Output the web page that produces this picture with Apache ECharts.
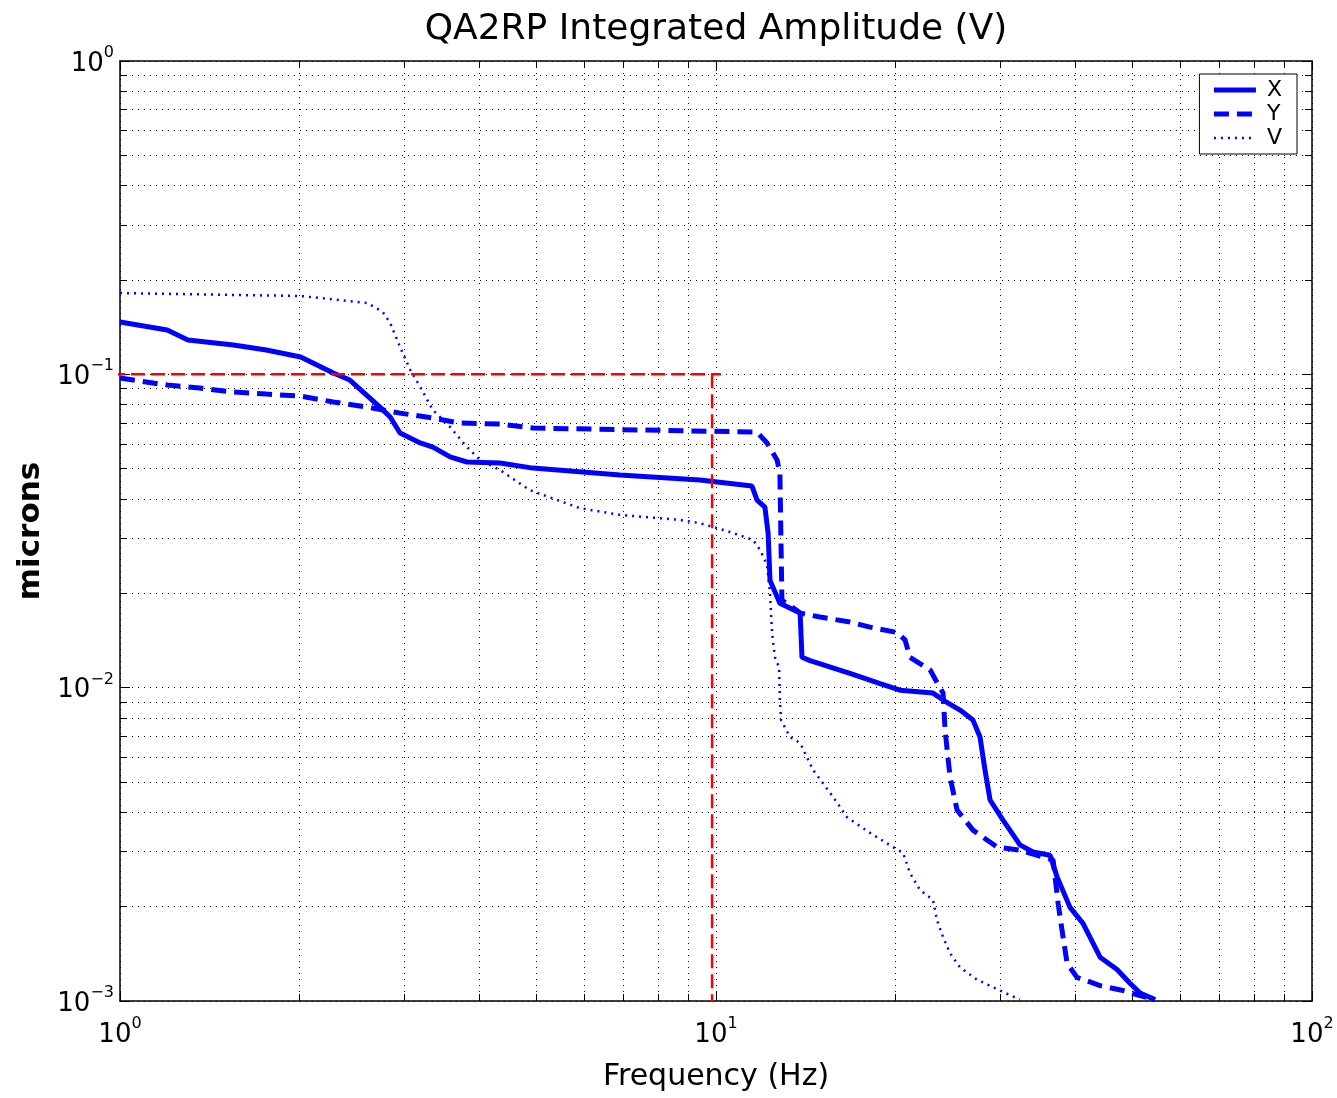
<!DOCTYPE html>
<html lang="en">
<head>
<meta charset="UTF-8">
<title>QA2RP Integrated Amplitude (V)</title>
<script src="https://cdn.jsdelivr.net/npm/echarts@6/dist/echarts.min.js"></script>
<style>
  html, body { margin: 0; padding: 0; background: #fff; }
  #chart { width: 1337px; height: 1098px; }
</style>
</head>
<body>
<div id="chart"></div>
<script>
// values: frequency (Hz) and integrated amplitude (microns)
const xFreq = [1.00, 1.20, 1.30, 1.55, 1.76, 2.01, 2.28, 2.43, 2.73, 2.84, 2.95, 3.19, 3.35, 3.58, 3.82, 4.34, 4.93, 6.90, 9.40, 11.49,
  11.72, 12.08, 12.23, 12.32, 12.80, 13.84, 13.94, 14.38, 16.78, 18.85, 20.36, 23.13, 24.04, 25.67, 26.99, 27.73, 28.27, 28.83, 30.31, 32.36,
  34.03, 36.35, 37.35, 39.26, 41.28, 44.10, 47.09, 49.50, 51.45, 54.53];
const xAmp = [0.1469, 0.1385, 0.1287, 0.1241, 0.1196, 0.1136, 0.1010, 0.0959, 0.0786, 0.0731, 0.0650, 0.0604, 0.0586, 0.0545, 0.0525, 0.0521, 0.0502, 0.0477, 0.0460, 0.0440,
  0.0397, 0.0377, 0.0311, 0.0220, 0.0186, 0.0173, 0.0125, 0.0122, 0.0111, 0.0103, 0.00982, 0.00961, 0.00913, 0.00848, 0.00788, 0.00696, 0.00546, 0.00438, 0.00378, 0.00315,
  0.00299, 0.00292, 0.00249, 0.00199, 0.00177, 0.00138, 0.00126, 0.00114, 0.00106, 0.00101];

const yFreq = [1.00, 1.20, 1.36, 1.55, 1.76, 2.01, 2.28, 2.60, 2.95, 3.35, 3.72, 4.34, 4.93, 11.72, 12.18, 12.66, 12.80, 12.90, 13.31, 13.84,
  14.94, 16.78, 18.13, 20.13, 20.76, 21.16, 22.86, 24.04, 24.23, 24.70, 25.38, 26.99, 29.62, 32.36, 36.78, 37.50, 38.22, 38.82, 40.33, 44.10,
  48.19, 51.45, 54.53];
const yAmp = [0.0973, 0.0924, 0.0904, 0.0878, 0.0865, 0.0852, 0.0816, 0.0786, 0.0752, 0.0725, 0.0699, 0.0694, 0.0674, 0.0654, 0.0604, 0.0533, 0.0484, 0.0190, 0.0183, 0.0173,
  0.0168, 0.0162, 0.0156, 0.0150, 0.0142, 0.0125, 0.0114, 0.00961, 0.00732, 0.00518, 0.00407, 0.00351, 0.00310, 0.00303, 0.00282, 0.00205, 0.00160, 0.00132, 0.00119, 0.00112,
  0.00108, 0.00104, 0.00101];

const vFreq = [1.00, 2.01, 2.60, 2.76, 2.84, 2.95, 3.07, 3.19, 3.35, 3.58, 3.82, 4.02, 4.34, 4.87, 5.91, 6.90, 8.70, 9.40, 10.56, 11.54,
  11.86, 12.18, 12.32, 12.42, 12.56, 12.76, 12.80, 12.86, 13.31, 13.84, 14.55, 15.72, 16.59, 18.13, 19.82, 20.60, 21.16, 21.99, 23.13, 23.49,
  24.04, 24.70, 25.67, 27.41, 29.96, 32.36];
const vAmp = [0.1817, 0.1778, 0.1689, 0.1581, 0.1458, 0.1222, 0.1032, 0.0911, 0.0769, 0.0679, 0.0586, 0.0533, 0.0495, 0.0427, 0.0374, 0.0356, 0.0343, 0.0335, 0.0314, 0.0296,
  0.0275, 0.0246, 0.0200, 0.0149, 0.0125, 0.0116, 0.00913, 0.00788, 0.00696, 0.00666, 0.00546, 0.00448, 0.00386, 0.00344, 0.00310, 0.00297, 0.00256, 0.00226, 0.00210, 0.00181,
  0.00160, 0.00142, 0.00128, 0.00117, 0.00108, 0.00101];

// red reference lines (0.1 micron level, ~10 Hz)
const refHFreq = [0.966, 10.19];
const refHAmp = [0.1, 0.1];
const refVFreq = [9.85, 9.85];
const refVAmp = [0.1, 0.001];

const zip = (a, b) => a.map((v, i) => [v, b[i]]);

const font = 'DejaVu Sans';
const blue = '#0000ff';
const dotted = { type: [1, 5], color: '#000', width: 1 };
const xStyle = { color: blue, width: 5, type: 'solid' };
const yStyle = { color: blue, width: 5, type: [15, 8] };
const vStyle = { color: blue, width: 2.5, type: [2, 5] };
const refStyle = { color: '#ff0000', width: 2.5, type: [14, 6] };

function powLabel(value) {
  const e = Math.round(Math.log10(value));
  return '{b|10}{s|' + (e < 0 ? '\u2212' + (-e) : e) + '}';
}
const labelRich = {
  b: { fontFamily: font, fontSize: 26, color: '#000', lineHeight: 32, verticalAlign: 'bottom' },
  s: { fontFamily: font, fontSize: 16, color: '#000', lineHeight: 16, verticalAlign: 'top' }
};

function logX(position, extra) {
  return Object.assign({
    type: 'log', logBase: 10, min: 1, max: 100, position: position,
    axisLine: { show: true, onZero: false, lineStyle: { color: '#000', width: 1.5 } },
    axisTick: { show: true, inside: true, length: 10, lineStyle: { color: '#000', width: 1 } },
    minorTick: { show: true, splitNumber: 9, length: 7, lineStyle: { color: '#000', width: 1 } },
    splitLine: { show: false },
    minorSplitLine: { show: false },
    axisLabel: { show: false }
  }, extra);
}
function logY(position, extra) {
  return Object.assign({
    type: 'log', logBase: 10, min: 0.001, max: 1, position: position,
    axisLine: { show: true, onZero: false, lineStyle: { color: '#000', width: 1.5 } },
    axisTick: { show: true, inside: true, length: 10, lineStyle: { color: '#000', width: 1 } },
    minorTick: { show: true, splitNumber: 9, length: 7, lineStyle: { color: '#000', width: 1 } },
    splitLine: { show: false },
    minorSplitLine: { show: false },
    axisLabel: { show: false }
  }, extra);
}

const chart = echarts.init(document.getElementById('chart'));

chart.setOption({
  animation: false,
  backgroundColor: '#fff',
  grid: { left: 120, right: 25, top: 61, bottom: 97, containLabel: false },
  legend: {
    data: [
      { name: 'X', lineStyle: { width: 5 } },
      { name: 'Y', lineStyle: { width: 5 } },
      { name: 'V', lineStyle: { width: 2.5 } }
    ],
    orient: 'vertical',
    right: 40, top: 74,
    padding: [5, 15, 5, 12],
    itemGap: 2,
    itemWidth: 42, itemHeight: 14,
    itemStyle: { opacity: 0 },
    borderColor: '#000', borderWidth: 1, borderRadius: 0,
    backgroundColor: '#fff',
    textStyle: { fontFamily: font, fontSize: 22, color: '#000', lineHeight: 18, padding: [0, 0, 0, 6] }
  },
  xAxis: [
    logX('bottom', {
      splitLine: { show: true, lineStyle: dotted },
      minorSplitLine: { show: true, lineStyle: dotted },
      axisLabel: { show: true, margin: 15, formatter: powLabel, rich: labelRich },
      name: 'Frequency (Hz)', nameLocation: 'middle', nameGap: 61,
      nameTextStyle: { fontFamily: font, fontSize: 30, color: '#000' }
    }),
    logX('top', {
      name: 'QA2RP Integrated Amplitude (V)', nameLocation: 'middle', nameGap: 13,
      nameTextStyle: { fontFamily: font, fontSize: 36, color: '#000' }
    })
  ],
  yAxis: [
    logY('left', {
      splitLine: { show: true, lineStyle: dotted },
      minorSplitLine: { show: true, lineStyle: dotted },
      axisLabel: { show: true, margin: 6, formatter: powLabel, rich: labelRich },
      name: 'microns', nameLocation: 'middle', nameGap: 73, nameRotate: 90,
      nameTextStyle: { fontFamily: font, fontSize: 31, fontWeight: 'bold', color: '#000' }
    }),
    logY('right', {})
  ],
  series: [
    {
      name: 'X', type: 'line', data: zip(xFreq, xAmp), z: 4,
      symbol: 'none', showSymbol: false,
      lineStyle: xStyle, itemStyle: { color: blue }
    },
    {
      name: 'Y', type: 'line', data: zip(yFreq, yAmp), z: 4,
      symbol: 'none', showSymbol: false,
      lineStyle: yStyle, itemStyle: { color: blue }
    },
    {
      name: 'V', type: 'line', data: zip(vFreq, vAmp), z: 4,
      symbol: 'none', showSymbol: false,
      lineStyle: vStyle, itemStyle: { color: blue }
    },
    {
      name: 'refH', type: 'line', data: zip(refHFreq, refHAmp), z: 5, clip: false,
      symbol: 'none', showSymbol: false, silent: true,
      lineStyle: refStyle
    },
    {
      name: 'refV', type: 'line', data: zip(refVFreq, refVAmp), z: 5, clip: false,
      symbol: 'none', showSymbol: false, silent: true,
      lineStyle: refStyle
    }
  ]
});
</script>
</body>
</html>
